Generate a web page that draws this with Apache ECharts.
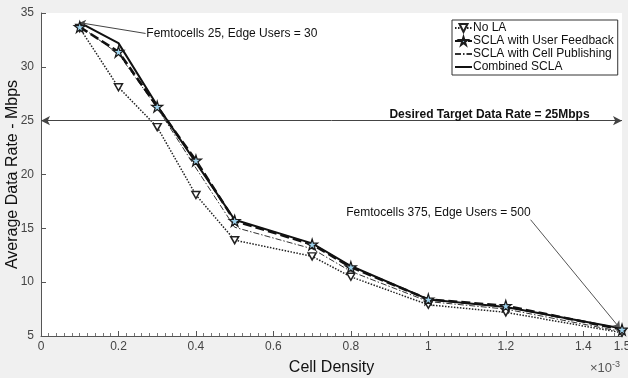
<!DOCTYPE html>
<html>
<head>
<meta charset="utf-8">
<script src="https://cdn.jsdelivr.net/npm/echarts@6/dist/echarts.min.js"></script>
<style>html,body{margin:0;padding:0;background:#f0f0f0;}#c{width:628px;height:378px;}</style>
</head>
<body>
<div id="c"></div>
<script>
const cellDensity = [0.1, 0.2, 0.3, 0.4, 0.5, 0.7, 0.8, 1.0, 1.2, 1.5];
const noLA = [33.6, 28.1, 24.4, 18.1, 13.9, 12.4, 10.5, 7.9, 7.2, 5.3];
const userFeedback = [33.7, 31.4, 26.3, 21.3, 15.7, 13.5, 11.4, 8.4, 7.8, 5.6];
const cellPublishing = [33.8, 31.2, 26.2, 20.6, 15.1, 13.1, 11.0, 8.2, 7.5, 5.4];
const combined = [34.1, 32.2, 26.4, 21.1, 15.8, 13.6, 11.5, 8.4, 7.7, 5.7];
const seriesNames = ['No LA', 'SCLA with User Feedback', 'SCLA with Cell Publishing', 'Combined SCLA'];
const targetRate = 25;
const targetLabel = 'Desired Target Data Rate = 25Mbps';
const note1 = 'Femtocells 25, Edge Users = 30';
const note2 = 'Femtocells 375, Edge Users = 500';

const pair = ys => cellDensity.map((x, i) => [x, ys[i]]);
const FONT = 'Liberation Sans, Arial, sans-serif';
const starPath = 'path://M50,0 L61,35 L98,35 L68,57 L79,92 L50,70 L21,92 L32,57 L2,35 L39,35 Z';
const downTri = 'path://M0,0 L10,0 L5,9 Z';

const chart = echarts.init(document.getElementById('c'), null, {renderer: 'canvas'});
chart.setOption({
  backgroundColor: '#f0f0f0',
  animation: false,
  textStyle: {fontFamily: FONT},
  grid: {left: 41, right: 6, top: 13, bottom: 42, show: true, backgroundColor: '#ffffff', borderWidth: 0,
         containLabel: false, outerBoundsMode: 'none'},
  legend: {
    orient: 'vertical', left: 452, top: 20, itemGap: 1, itemWidth: 17, itemHeight: 10,
    backgroundColor: '#ffffff', borderColor: '#333', borderWidth: 1, borderRadius: 0,
    padding: [2, 4, 2, 2],
    textStyle: {fontSize: 12, color: '#111', fontFamily: FONT, padding: [0, 0, 0, -4]},
    data: [
      {name: seriesNames[0]},
      {name: seriesNames[1]},
      {name: seriesNames[2], itemStyle: {opacity: 0}},
      {name: seriesNames[3], itemStyle: {opacity: 0}}
    ]
  },
  xAxis: {
    type: 'value', min: 0, max: 1.5, interval: 0.2,
    name: 'Cell Density', nameLocation: 'middle', nameGap: 24, nameMoveOverlap: false,
    nameTextStyle: {fontSize: 16, color: '#111', fontFamily: FONT},
    axisLine: {show: true, lineStyle: {color: '#555', width: 1}},
    axisTick: {show: true, inside: true, length: 5, lineStyle: {color: '#555'}},
    minorTick: {show: true, splitNumber: 10, length: 3, lineStyle: {color: '#777'}},
    axisLabel: {fontSize: 12, color: '#444', margin: 5, fontFamily: FONT},
    splitLine: {show: false}
  },
  yAxis: {
    type: 'value', min: 5, max: 35, interval: 5,
    name: 'Average Data Rate - Mbps', nameLocation: 'middle', nameGap: 20, nameMoveOverlap: false,
    nameTextStyle: {fontSize: 16, color: '#111', fontFamily: FONT},
    axisLine: {show: true, lineStyle: {color: '#555', width: 1}},
    axisTick: {show: true, inside: true, length: 5, lineStyle: {color: '#555'}},
    axisLabel: {fontSize: 12, color: '#444', margin: 7, fontFamily: FONT},
    splitLine: {show: false}
  },
  graphic: [{
    type: 'text', right: 8, bottom: 3,
    style: {
      text: '×10{s|-3}', fontSize: 13, fill: '#555', fontFamily: FONT,
      rich: {s: {fontSize: 9, verticalAlign: 'top', padding: [0, 0, 8, 0], fill: '#555'}}
    }
  }],
  series: [
    {
      name: seriesNames[0], type: 'line', data: pair(noLA), z: 3,
      symbol: downTri, symbolSize: [8, 7], showAllSymbol: true,
      itemStyle: {color: '#ffffff', borderColor: '#222', borderWidth: 1.5},
      lineStyle: {color: '#222', width: 1.5, type: [1.5, 1.5]},
      markLine: {
        silent: true, symbol: ['arrow', 'arrow'], symbolSize: [7, 9],
        lineStyle: {color: '#444', width: 1, type: 'solid'},
        label: {show: false},
        data: [[{coord: [0, targetRate]}, {coord: [1.5, targetRate]}]]
      },
      markPoint: {
        silent: true, symbol: 'circle', symbolSize: 0,
        label: {show: true, fontSize: 12, color: '#111', fontFamily: FONT},
        data: [
          {coord: [0.272, 33.05], label: {position: 'right', distance: 0, formatter: note1}},
          {coord: [1.026, 16.43], label: {position: 'inside', formatter: note2}},
          {coord: [1.158, 25.6], label: {position: 'inside', fontWeight: 'bold', fontSize: 12, formatter: targetLabel}}
        ]
      }
    },
    {
      name: seriesNames[1], type: 'line', data: pair(userFeedback), z: 5,
      symbol: starPath, symbolSize: 11, showAllSymbol: true,
      itemStyle: {color: '#9fd3ee', borderColor: '#1a1a1a', borderWidth: 1.2},
      lineStyle: {color: '#111', width: 2.6, type: [9, 4]},
      markLine: {
        silent: true, symbol: ['none', 'none'],
        lineStyle: {color: '#444', width: 1, type: 'solid'},
        label: {show: false},
        data: [[{coord: [0.27, 33.1]}, {coord: [0.1, 34.1], symbol: 'arrow', symbolSize: 6}]]
      }
    },
    {
      name: seriesNames[2], type: 'line', data: pair(cellPublishing), z: 4,
      symbol: 'none', showSymbol: false,
      itemStyle: {color: '#333'},
      lineStyle: {color: '#333', width: 1, type: [6, 2, 1.5, 2]},
      markLine: {
        silent: true, symbol: ['none', 'arrow'], symbolSize: 7,
        lineStyle: {color: '#555', width: 1, type: 'solid'},
        label: {show: false},
        data: [[{coord: [1.264, 15.8]}, {coord: [1.495, 5.7]}]]
      }
    },
    {
      name: seriesNames[3], type: 'line', data: pair(combined), z: 4,
      symbol: 'none', showSymbol: false,
      itemStyle: {color: '#111'},
      lineStyle: {color: '#111', width: 2, type: 'solid'}
    }
  ]
});
</script>
</body>
</html>
